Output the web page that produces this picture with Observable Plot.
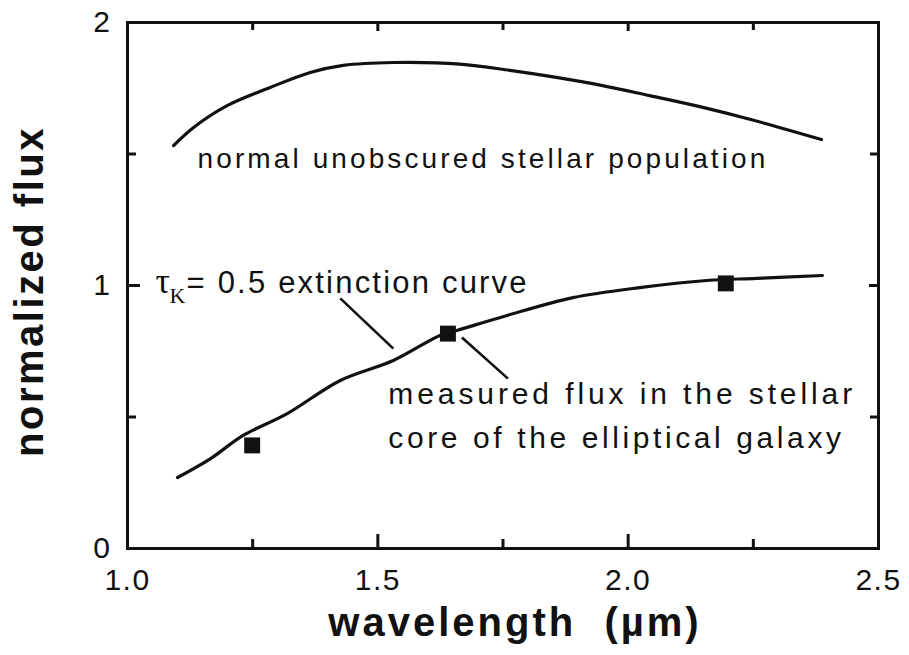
<!DOCTYPE html>
<html>
<head>
<meta charset="utf-8">
<script src="https://cdn.jsdelivr.net/npm/d3@7"></script>
<script src="https://cdn.jsdelivr.net/npm/@observablehq/plot@0.6"></script>
<style>
  html, body { margin: 0; padding: 0; background: #fff; }
  #chart svg { display: block; font-family: "Liberation Sans", Arial, sans-serif; }
</style>
</head>
<body>
<div id="chart"></div>
<script>
// Upper curve: normal unobscured stellar population
const upperX = [1.092, 1.132, 1.199, 1.285, 1.365, 1.431, 1.531, 1.664, 1.764, 1.844, 1.944, 2.043, 2.143, 2.243, 2.386];
const upperY = [1.532, 1.601, 1.684, 1.753, 1.810, 1.837, 1.848, 1.842, 1.818, 1.795, 1.762, 1.722, 1.680, 1.632, 1.555];
// Lower curve: tau_K = 0.5 extinction curve
const lowerX = [1.100, 1.166, 1.231, 1.319, 1.425, 1.531, 1.624, 1.658, 1.758, 1.890, 2.023, 2.157, 2.257, 2.388];
const lowerY = [0.270, 0.342, 0.430, 0.513, 0.639, 0.715, 0.810, 0.829, 0.886, 0.954, 0.992, 1.019, 1.027, 1.038];
// Measured flux points
const measX = [1.249, 1.640, 2.195];
const measY = [0.392, 0.817, 1.008];
// Tick values
const xTickLabels = [1.0, 1.5, 2.0, 2.5];
const yTickLabels = [0, 1, 2];
const xMajorTicks = [1.5, 2.0];
const xMinorTicks = [1.25, 1.75, 2.25];
const yMajorTicks = [1.0];
const yMinorTicks = [0.5, 1.5];
// Leader lines (data units)
const leaderX1 = [1.425, 1.668];
const leaderY1 = [0.951, 0.802];
const leaderX2 = [1.531, 1.760];
const leaderY2 = [0.760, 0.646];
// Annotation texts and anchors (data units, baseline)
const upperNote = ["normal unobscured stellar population"];
const upperNoteX = [1.140], upperNoteY = [1.445];
const measNote = ["measured flux in the stellar", "core of the elliptical galaxy"];
const measNoteX = [1.521, 1.521], measNoteY = [0.551, 0.384];
const tauNote = "= 0.5 extinction curve";
const tauNoteX = [1.056], tauNoteY = [0.973];
const xTitle = "wavelength  (µm)";
const yTitle = "normalized flux";

const W = 909, H = 655;
const mL = 127, mR = 31, mT = 22, mB = 107;
const fh = H - mT - mB, fw = W - mL - mR;

const upper = upperX.map((x, i) => ({x, y: upperY[i]}));
const lower = lowerX.map((x, i) => ({x, y: lowerY[i]}));
const meas = measX.map((x, i) => ({x, y: measY[i]}));
const leaders = leaderX1.map((x1, i) => ({x1, y1: leaderY1[i], x2: leaderX2[i], y2: leaderY2[i]}));
const measLines = measNote.map((t, i) => ({t, x: measNoteX[i], y: measNoteY[i]}));

const ink = "#111";

const plot = Plot.plot({
  width: W, height: H,
  marginLeft: mL, marginRight: mR, marginTop: mT, marginBottom: mB,
  style: {background: "#fff", color: ink, overflow: "visible"},
  x: {domain: [1.0, 2.5]},
  y: {domain: [0, 2]},
  marks: [
    Plot.axisX({ticks: xTickLabels, tickFormat: d3.format(".1f"), tickSize: 0, tickPadding: 20, fontSize: 30, label: null}),
    Plot.axisY({ticks: yTickLabels, tickFormat: d3.format("d"), tickSize: 0, tickPadding: 16, fontSize: 30, label: null}),
    Plot.frame({stroke: ink, strokeWidth: 3}),
    // inward ticks
    Plot.tickX(xMajorTicks, {x: d => d, insetTop: fh - 14, stroke: ink, strokeWidth: 3}),
    Plot.tickX(xMinorTicks, {x: d => d, insetTop: fh - 9, stroke: ink, strokeWidth: 3}),
    Plot.tickX(xMajorTicks, {x: d => d, insetBottom: fh - 9, stroke: ink, strokeWidth: 3}),
    Plot.tickX(xMinorTicks, {x: d => d, insetBottom: fh - 8, stroke: ink, strokeWidth: 3}),
    Plot.tickY(yMajorTicks, {y: d => d, insetRight: fw - 13, stroke: ink, strokeWidth: 3}),
    Plot.tickY(yMinorTicks, {y: d => d, insetRight: fw - 9, stroke: ink, strokeWidth: 3}),
    Plot.tickY(yMajorTicks, {y: d => d, insetLeft: fw - 9, stroke: ink, strokeWidth: 3}),
    Plot.tickY(yMinorTicks, {y: d => d, insetLeft: fw - 8, stroke: ink, strokeWidth: 3}),
    // curves
    Plot.line(upper, {x: "x", y: "y", curve: "catmull-rom", stroke: ink, strokeWidth: 3.2}),
    Plot.line(lower, {x: "x", y: "y", curve: "catmull-rom", stroke: ink, strokeWidth: 3.2}),
    Plot.link(leaders, {x1: "x1", y1: "y1", x2: "x2", y2: "y2", stroke: ink, strokeWidth: 2.6}),
    Plot.dot(meas, {x: "x", y: "y", symbol: "square", r: 9, fill: ink, stroke: "none"}),
    // annotations
    Plot.text(upperNote, {x: () => upperNoteX[0], y: () => upperNoteY[0], text: d => d, textAnchor: "start", lineAnchor: "bottom", fontSize: 28, fill: ink}),
    Plot.text(measLines, {x: "x", y: "y", text: "t", textAnchor: "start", lineAnchor: "bottom", fontSize: 30, fill: ink}),
    Plot.text(["τ"], {x: () => tauNoteX[0], y: () => tauNoteY[0], text: d => d, textAnchor: "start", lineAnchor: "bottom", fontSize: 36, fontFamily: "Liberation Serif", fill: ink}),
    Plot.text(["K"], {x: () => tauNoteX[0], y: () => tauNoteY[0], text: d => d, dx: 14, dy: 10, textAnchor: "start", lineAnchor: "bottom", fontSize: 22, fontFamily: "Liberation Serif", fill: ink}),
    Plot.text([tauNote], {x: () => tauNoteX[0], y: () => tauNoteY[0], text: d => d, dx: 31, textAnchor: "start", lineAnchor: "bottom", fontSize: 31, fill: ink}),
    // axis titles
    Plot.text([xTitle], {frameAnchor: "bottom", text: d => d, dx: 12, dy: 87, lineAnchor: "bottom", fontSize: 40, fontWeight: "bold", fill: ink}),
    Plot.text([yTitle], {frameAnchor: "left", text: d => d, textAnchor: "middle", rotate: -90, dx: -85, dy: 6, lineAnchor: "bottom", fontSize: 40, fontWeight: "bold", fill: ink})
  ]
});

// wide tracking like the original typesetting
const spacing = new Map([
  [upperNote[0], 3.1],
  [measNote[0], 3.9],
  [measNote[1], 3.6],
  [tauNote, 2.2],
  [xTitle, 3],
  [yTitle, 2.5]
]);
d3.select(plot).selectAll("text").each(function() {
  const t = this.textContent;
  if (spacing.has(t)) this.style.letterSpacing = spacing.get(t) + "px";
  else if (/^[0-9.]+$/.test(t)) this.style.letterSpacing = "1.5px";
});
document.getElementById("chart").appendChild(plot);
</script>
</body>
</html>
